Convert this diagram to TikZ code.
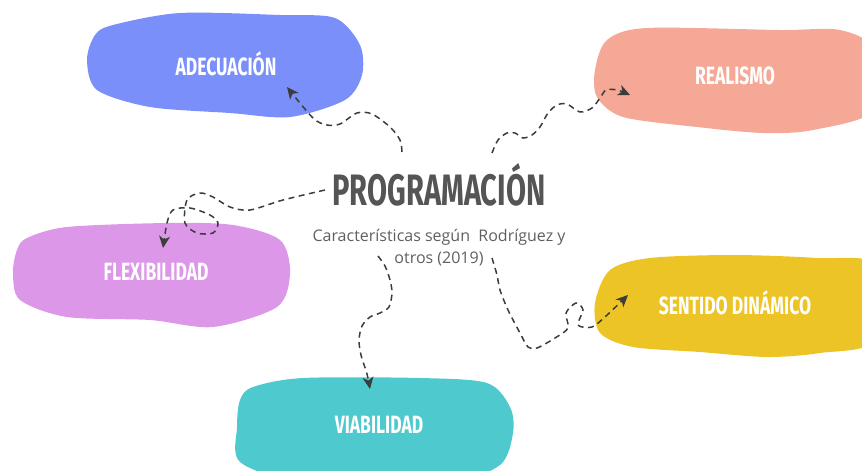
\documentclass[tikz,border=0pt]{standalone}
\usepackage{fontspec}
\setmainfont{Open Sans}
\newfontfamily\titlefont[FakeStretch=0.66]{Fira Sans}
\newfontfamily\blobfont[FakeStretch=0.7]{Fira Sans}
\usetikzlibrary{arrows.meta}
\definecolor{adecblue}{RGB}{122,143,249}
\definecolor{realsalmon}{RGB}{245,168,150}
\definecolor{flexviolet}{RGB}{220,151,233}
\definecolor{sentyellow}{RGB}{237,196,38}
\definecolor{viateal}{RGB}{78,202,207}
\definecolor{titlegray}{RGB}{85,85,85}
\definecolor{subgray}{RGB}{95,95,95}
\definecolor{linkgray}{RGB}{60,60,60}
\tikzset{blob/.style={draw=none}}
\tikzset{blobtext/.style={text=white,font=\blobfont\bfseries\fontsize{25}{25}\selectfont}}
\tikzset{titletext/.style={text=titlegray,font=\titlefont\bfseries\fontsize{44}{44}\selectfont}}
\tikzset{subtext/.style={text=subgray,align=center,font=\fontsize{16}{22}\selectfont}}
\tikzset{link/.style={draw=linkgray,line width=1.5pt,dash pattern=on 6pt off 4.5pt,
  -{Stealth[length=12pt,width=11pt,inset=3.5pt]}}}

\begin{document}
\begin{tikzpicture}[x=1pt,y=-1pt]
\useasboundingbox (0,0) rectangle (862,471);
\clip (0,0) rectangle (862,471);

% blobs
\fill[adecblue] plot[smooth cycle] coordinates {(113,25) (180,13) (280,15) (335,18) (360,45)
  (362,75) (345,100) (290,117) (230,113) (150,107) (97,90) (87,60) (95,35)};
\fill[realsalmon] plot[smooth cycle] coordinates {(607,40) (647,28) (780,30) (840,30) (875,50)
  (875,110) (813,130) (763,133) (697,127) (623,117) (597,97) (595,70)};
\fill[flexviolet] plot[smooth cycle] coordinates {(27,238) (67,227) (167,223) (233,225) (280,240)
  (290,273) (277,307) (213,327) (150,320) (67,317) (20,300) (13,273) (17,250)};
\fill[sentyellow] plot[smooth cycle] coordinates {(610,270) (650,258) (733,255) (817,258) (875,265)
  (875,340) (820,353) (767,357) (700,352) (633,347) (600,333) (595,303)};
\fill[viateal] plot[smooth cycle] coordinates {(253,387) (303,378) (420,378) (487,383) (510,407)
  (513,433) (500,465) (450,480) (300,480) (240,462) (237,427) (240,400)};

\node[blobtext] (adec) at (226,64) {ADECUACIÓN};
\node[blobtext] (real) at (735,76) {REALISMO};
\node[blobtext] (flex) at (156,272) {FLEXIBILIDAD};
\node[blobtext] (sent) at (735,303) {SENTIDO DINÁMICO};
\node[blobtext] (via) at (379,425) {VIABILIDAD};

\node[titletext] (prog) at (439,185) {PROGRAMACIÓN};
\node[subtext] (sub) at (439,248) {Características según\ \ Rodríguez y\\otros (2019)};

\coordinate (s1) at (402,152);
\coordinate (s2) at (492,153);
\coordinate (s3) at (325,190);
\coordinate (s4) at (378,256);
\coordinate (s5) at (492,258);
\coordinate (adec in) at (287,87);
\coordinate (real in) at (630,95);
\coordinate (flex in) at (163,248);
\coordinate (via in) at (370,389);
\coordinate (sent in) at (628,295);

% links
\draw[link] plot[smooth] coordinates {(s1) (400,140) (390,127) (372,114) (357,113) (340,124)
  (327,125) (313,118) (adec in)};
\draw[link] plot[smooth] coordinates {(s2) (498,140) (507,133) (515,133) (523,138) (532,135)
  (540,127) (548,113) (557,105) (567,104) (580,112) (592,108) (600,98) (606,90) (617,90) (real in)};
\draw[link] plot[smooth] coordinates {(s3) (283,200) (250,210) (230,207) (213,197) (200,193)
  (187,200) (185,223) (197,233) (213,233) (218,223) (210,215) (190,208) (173,210) (167,223) (flex in)};
\draw[link] plot[smooth] coordinates {(s4) (385,266) (390,280) (392,293) (389,307) (380,313)
  (370,317) (362,326) (359,340) (361,355) (367,374) (via in)};
\draw[link] plot[smooth] coordinates {(s5) (497,275) (500,290) (508,310) (520,333) (528,347)
  (537,348) (555,338) (568,328) (566,313) (576,303) (583,310) (578,325) (592,327) (606,316) (sent in)};
\end{tikzpicture}
\end{document}
